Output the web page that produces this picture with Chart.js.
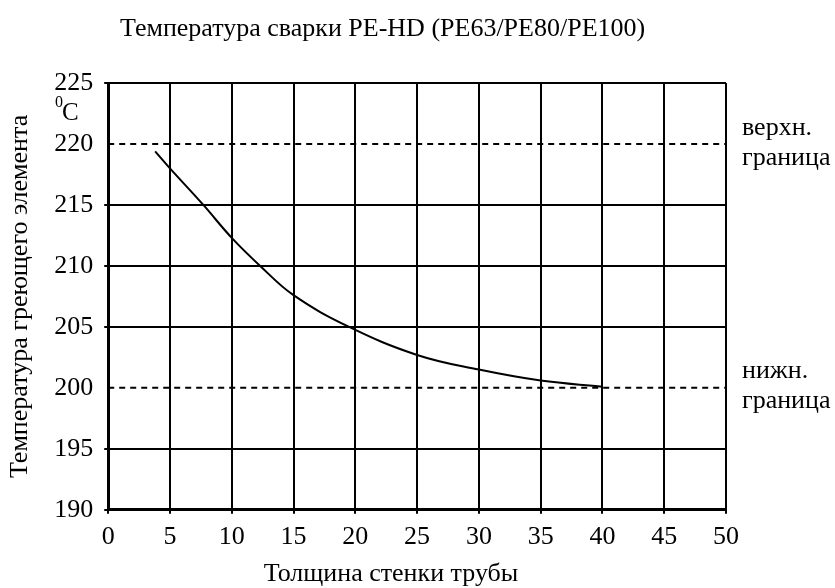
<!DOCTYPE html>
<html>
<head>
<meta charset="utf-8">
<script src="https://cdn.jsdelivr.net/npm/chart.js@4"></script>
<style>
  body { margin: 0; background: #fff; }
  canvas { display: block; }
</style>
</head>
<body>
<canvas id="weldChart" width="835" height="588"></canvas>
<script>
// Data
const wallThickness = [3.8, 5, 7.7, 10, 12.3, 15, 19.5, 25, 30, 35, 40];
const heaterTemp = [219.4, 218.0, 215.0, 212.3, 210.0, 207.6, 205.0, 202.7, 201.5, 200.6, 200.1];
const limitRange = [0, 50];
const upperLimit = 220;
const lowerLimit = 200;
const xTicks = [0, 5, 10, 15, 20, 25, 30, 35, 40, 45, 50];
const yTicks = [190, 195, 200, 205, 210, 215, 220, 225];

const serif = 'Liberation Serif';

// Extra texts: title, x axis title, unit, limit labels
const textPlugin = {
    id: 'texts',
    afterDraw(chart) {
        const ctx = chart.ctx;
        const area = chart.chartArea;
        const y = chart.scales.y;
        ctx.save();
        ctx.fillStyle = '#000';
        ctx.textBaseline = 'middle';
        ctx.textAlign = 'left';
        ctx.font = '26px ' + serif;
        ctx.fillText('Температура сварки PE-HD (PE63/PE80/PE100)', 120, 29);

        // x axis title sits left of centre in the reference
        ctx.textAlign = 'center';
        ctx.fillText('Толщина стенки трубы', 391, 574);
        ctx.textAlign = 'left';

        // unit
        ctx.font = '16px ' + serif;
        ctx.fillText('0', 55, y.getPixelForValue(225) + 20);
        ctx.font = '25px ' + serif;
        ctx.fillText('C', 62, y.getPixelForValue(225) + 30);

        // limit labels
        ctx.font = '26px ' + serif;
        const x = area.right + 16;
        ctx.fillText('верхн.', x, y.getPixelForValue(upperLimit) - 16);
        ctx.fillText('граница', x, y.getPixelForValue(upperLimit) + 14);
        ctx.fillText('нижн.', x, y.getPixelForValue(lowerLimit) - 17);
        ctx.fillText('граница', x, y.getPixelForValue(lowerLimit) + 13);
        ctx.restore();
    }
};

const ctx = document.getElementById('weldChart').getContext('2d');
const weldChart = new Chart(ctx, {
    type: 'scatter',
    data: {
        datasets: [
            {
                data: wallThickness.map((x, i) => ({ x: x, y: heaterTemp[i] })),
                showLine: true,
                tension: 0.4,
                borderColor: '#000',
                borderWidth: 2,
                pointRadius: 0
            },
            {
                data: limitRange.map(x => ({ x: x, y: upperLimit })),
                showLine: true,
                borderColor: '#000',
                borderWidth: 2,
                borderDash: [6, 5],
                pointRadius: 0
            },
            {
                data: limitRange.map(x => ({ x: x, y: lowerLimit })),
                showLine: true,
                borderColor: '#000',
                borderWidth: 2,
                borderDash: [6, 5],
                pointRadius: 0
            }
        ]
    },
    options: {
        responsive: false,
        animation: false,
        layout: { padding: { top: 83, right: 109, left: 5, bottom: 27 } },
        plugins: {
            legend: { display: false },
            tooltip: { enabled: false }
        },
        scales: {
            x: {
                type: 'linear',
                min: 0,
                max: 50,
                afterBuildTicks: axis => { axis.ticks = xTicks.map(v => ({ value: v })); },
                ticks: { color: '#000', font: { family: serif, size: 26 }, padding: 8, maxRotation: 0 },
                grid: { color: '#000', lineWidth: 2, tickLength: 4 },
                border: { color: '#000', width: 3 }
            },
            y: {
                min: 190,
                max: 225,
                afterBuildTicks: axis => { axis.ticks = yTicks.map(v => ({ value: v })); },
                ticks: { color: '#000', font: { family: serif, size: 26 }, padding: 11 },
                grid: {
                    color: c => (c.tick && (c.tick.value === upperLimit || c.tick.value === lowerLimit)) ? 'rgba(0,0,0,0)' : '#000',
                    lineWidth: 2,
                    tickLength: 4
                },
                border: { color: '#000', width: 3 },
                title: {
                    display: true,
                    text: 'Температура греющего элемента',
                    color: '#000',
                    font: { family: serif, size: 26 },
                    padding: { top: 0, bottom: 7 }
                }
            }
        }
    },
    plugins: [textPlugin]
});
</script>
</body>
</html>
